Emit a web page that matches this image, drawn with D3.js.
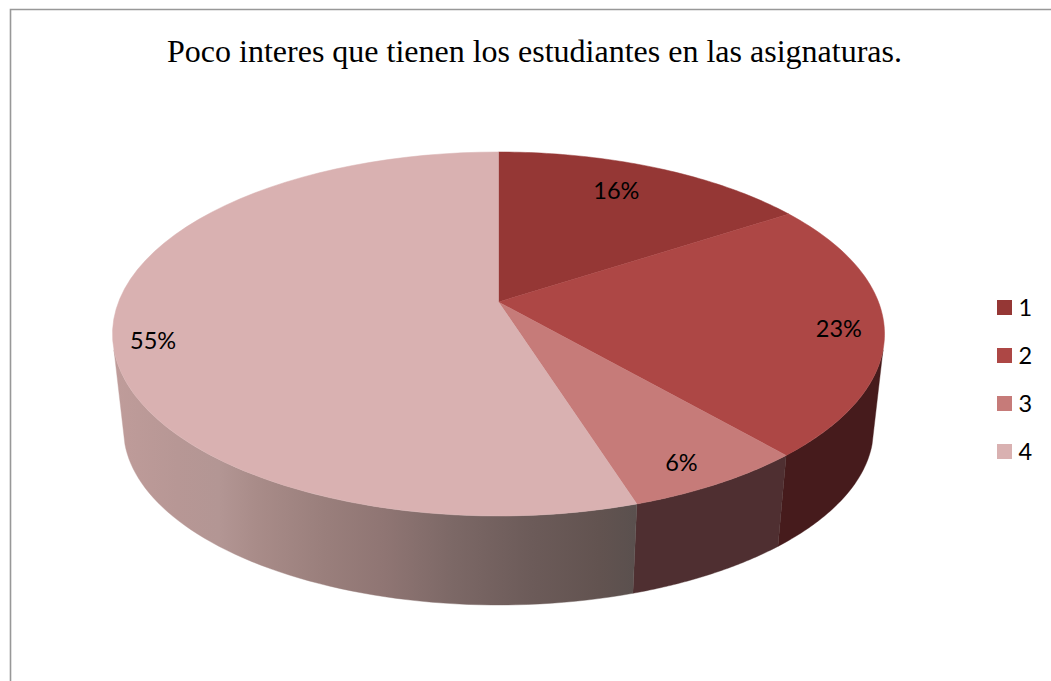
<!DOCTYPE html>
<html><head><meta charset="utf-8">
<style>html,body{margin:0;padding:0;background:#fff}svg{display:block}</style>
<script src="https://cdn.jsdelivr.net/npm/d3@7/dist/d3.min.js"></script>
</head><body><div id="c"></div>
<script>
const titleText = "Poco interes que tienen los estudiantes en las asignaturas.";
const categories = ["1","2","3","4"];
const values = [15.8, 22.8, 6.5, 54.9];
const topColors = ["#953735","#ad4745","#c67b79","#d9b1b1"];
const sideColors = ["#3f1514","#461b1c","#4f2f31","#8a706e"];
const backStops = [[0,"#bf9c9a"],[0.12,"#b79795"],[0.2,"#b39694"],[0.27,"#a98c89"],[0.4,"#9a7f7c"],[0.52,"#8f7573"],[0.65,"#7c6866"],[0.8,"#6c5b59"],[0.93,"#625350"],[1,"#5a504e"]];
const labelTexts = ["16%","23%","6%","55%"];

const W=1051,H=681;
const svg=d3.select("#c").append("svg").attr("width",W).attr("height",H);
const defs=svg.append("defs");

// frame
svg.append("path").attr("d",`M10.5 ${H} V9.5 H${W}`).attr("fill","none").attr("stroke","#989898").attr("stroke-width",1.6);

svg.append("text").attr("x",534.5).attr("y",62).attr("text-anchor","middle")
  .attr("font-family","'Liberation Serif',serif").attr("font-size",32).attr("fill","#000").text(titleText);

// perspective projection of the unit disc
const cx=498.5, c=0.1758, a=-123.3, b=302, d=380;
const midY=334, lowMid=429, lowRy=176/182, lowRx=375/386;
const proj=(u,v)=>{const w=1+c*v;return [cx+d*u/w,(a*v+b)/w];};
const upper=(t,r=1)=>proj(r*Math.sin(t),r*Math.cos(t));
const lower=t=>{const p=upper(t);return [cx+(p[0]-cx)*lowRx, lowMid+(p[1]-midY)*lowRy];};

const arcs=d3.pie().sort(null).value(v=>v)(values);
const line=d3.line();
const samples=(s,e)=>d3.range(0,61).map(i=>s+(e-s)*i/60);
const visA=105*Math.PI/180, visB=255*Math.PI/180;

defs.append("linearGradient").attr("id","back").attr("gradientUnits","userSpaceOnUse")
  .attr("x1",114).attr("x2",636).attr("y1",0).attr("y2",0)
  .selectAll("stop").data(backStops).join("stop")
  .attr("offset",s=>s[0]).attr("stop-color",s=>s[1]);

// sides
svg.append("g").selectAll("path").data(arcs.filter(p=>p.endAngle>visA&&p.startAngle<visB)).join("path")
  .attr("d",p=>{
    const ts=samples(Math.max(p.startAngle,visA),Math.min(p.endAngle,visB));
    return line(ts.map(t=>upper(t)).concat(ts.slice().reverse().map(t=>lower(t))))+"Z";
  })
  .attr("fill",p=>p.index===3?"url(#back)":sideColors[p.index])
  .attr("stroke",p=>p.index===3?"url(#back)":sideColors[p.index]).attr("stroke-width",0.4);

// top faces
svg.append("g").selectAll("path").data(arcs).join("path")
  .attr("d",p=>line([proj(0,0)].concat(samples(p.startAngle,p.endAngle).map(t=>upper(t))))+"Z")
  .attr("fill",p=>topColors[p.index]).attr("stroke",p=>topColors[p.index]).attr("stroke-width",0.5);

// labels
const labelPlace=[[0.8,-11,-1],[0.89,-2,5],[0.85,1,10],[0.89,-3,14]];
svg.append("g").selectAll("text").data(arcs).join("text")
  .attr("transform",p=>{
    const [r,dx,dy]=labelPlace[p.index];
    const q=upper((p.startAngle+p.endAngle)/2,r);
    return `translate(${q[0]+dx},${q[1]+dy})`;
  })
  .attr("text-anchor","middle").attr("dy","0.35em")
  .attr("font-family","Lato,sans-serif").attr("font-size",23.5).attr("fill","#000")
  .text(p=>labelTexts[p.index]);

// legend
const ly=d3.scalePoint().domain(categories).range([307.5,451.5]);
const lg=svg.append("g").selectAll("g").data(categories).join("g")
  .attr("transform",k=>`translate(997,${ly(k)})`);
lg.append("rect").attr("x",0).attr("y",-7.5).attr("width",15).attr("height",15)
  .attr("fill",(k,i)=>topColors[i]);
lg.append("text").attr("x",21.5).attr("y",8.5)
  .attr("font-family","Lato,sans-serif").attr("font-size",23.5).attr("fill","#000").text(k=>k);
</script></body></html>
